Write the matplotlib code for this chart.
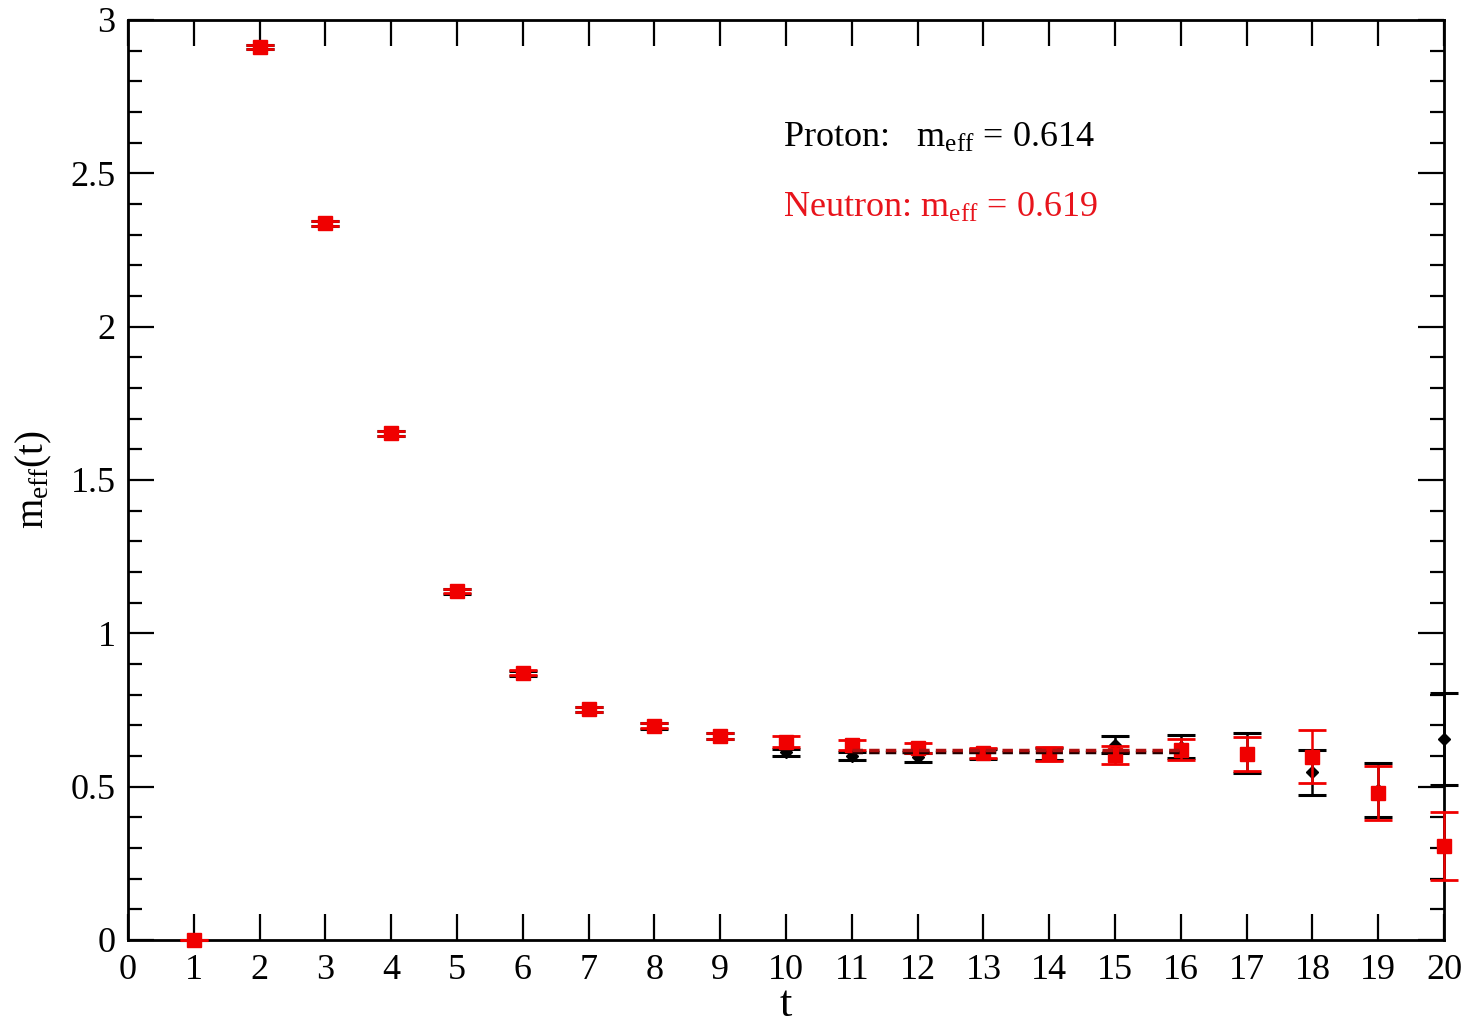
import matplotlib
matplotlib.use("Agg")
import matplotlib.pyplot as plt
from matplotlib.ticker import MultipleLocator, FuncFormatter

plt.rcParams['font.family'] = ['Liberation Serif', 'DejaVu Serif']
plt.rcParams['mathtext.default'] = 'regular'

t = [1, 2, 3, 4, 5, 6, 7, 8, 9, 10, 11, 12, 13, 14, 15, 16, 17, 18, 19, 20]

# Neutron (red squares)
neutron = [0.0, 2.911, 2.337, 1.652, 1.138, 0.871, 0.753, 0.698, 0.665, 0.647,
           0.636, 0.625, 0.609, 0.607, 0.603, 0.620, 0.606, 0.598, 0.478, 0.307]
neutron_err = [0.0, 0.006, 0.008, 0.008, 0.008, 0.008, 0.008, 0.008, 0.009, 0.018,
               0.017, 0.016, 0.016, 0.022, 0.029, 0.034, 0.055, 0.087, 0.088, 0.110]

# Proton (black diamonds)
proton = [0.0, 2.912, 2.336, 1.651, 1.137, 0.869, 0.752, 0.697, 0.664, 0.612,
          0.600, 0.596, 0.607, 0.606, 0.637, 0.630, 0.610, 0.547, 0.490, 0.655]
proton_err = [0.0, 0.006, 0.009, 0.009, 0.009, 0.009, 0.009, 0.009, 0.010, 0.012,
              0.012, 0.014, 0.017, 0.020, 0.028, 0.038, 0.066, 0.074, 0.088, 0.150]

fit_range = [11, 16]
proton_fit = 0.614
neutron_fit = 0.619

fig = plt.figure(figsize=(14.68, 10.29), dpi=100)
ax = fig.add_axes([0.0872, 0.0865, 0.8965, 0.8941])

ax.errorbar(t, proton, yerr=proton_err, fmt='D', color='black', ms=6,
            elinewidth=1.8, capsize=10, capthick=2.2, zorder=2, clip_on=False)
ax.errorbar(t, neutron, yerr=neutron_err, fmt='s', color='#f00000', ms=10,
            mec='#f00000', elinewidth=1.8, capsize=10, capthick=2.0, zorder=3, clip_on=False)

ax.plot(fit_range, [proton_fit, proton_fit], ls=(0, (3, 1.8)), color='#200000', lw=2.5, zorder=4)
ax.plot(fit_range, [neutron_fit, neutron_fit], ls=(0, (3, 1.8)), color='#b01010', lw=2.5, zorder=4)

ax.set_xlim(0, 20)
ax.set_ylim(0, 3)
ax.xaxis.set_major_locator(MultipleLocator(1))
ax.yaxis.set_major_locator(MultipleLocator(0.5))
ax.yaxis.set_minor_locator(MultipleLocator(0.1))
ax.yaxis.set_major_formatter(FuncFormatter(lambda v, p: '%g' % v))

ax.tick_params(which='both', direction='in', top=True, right=True, labelsize=26, width=1.6)
ax.tick_params(axis='x', pad=10)
ax.tick_params(axis='y', pad=9)
ax.tick_params(which='major', length=19)
ax.tick_params(which='minor', length=10)
for s in ax.spines.values():
    s.set_linewidth(2.0)

ax.set_xlabel('t', fontsize=32, labelpad=-1)
ax.set_ylabel('m$_{eff}$(t)', fontsize=28, labelpad=12)

ax.text(9.95, 2.615, 'Proton:   m$_{eff}$ = 0.614', fontsize=26, color='black', va='center')
ax.text(9.95, 2.385, 'Neutron: m$_{eff}$ = 0.619', fontsize=26, color='#e8141c', va='center')

fig.savefig('out.png', dpi=100)
